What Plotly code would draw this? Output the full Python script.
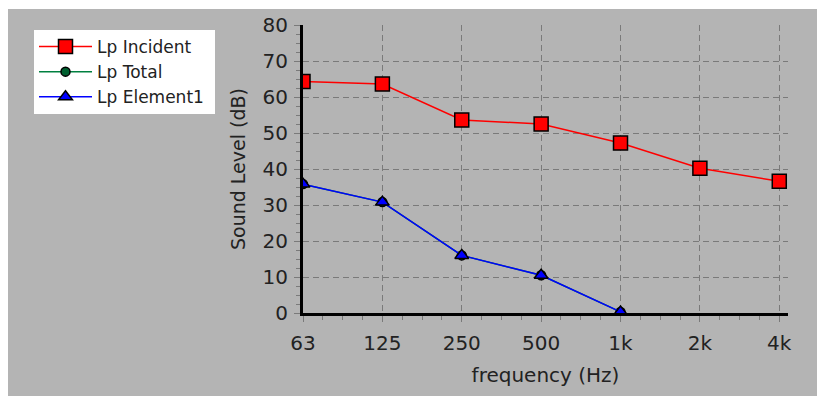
import plotly.graph_objects as go

categories = ["63", "125", "250", "500", "1k", "2k", "4k"]
lp_incident = [64.3, 63.6, 53.6, 52.5, 47.2, 40.2, 36.6]
lp_total = [35.8, 30.8, 16.0, 10.5, 0.3]
lp_element1 = [35.8, 30.8, 16.0, 10.5, 0.3]
y_ticks = [0, 10, 20, 30, 40, 50, 60, 70, 80]

GRAY = "#b4b4b4"
TXT = "#222222"
FONT = "DejaVu Sans, Verdana, sans-serif"

xpos = list(range(len(categories)))

fig = go.Figure()
fig.add_trace(go.Scatter(
    x=xpos, y=lp_incident, name="Lp Incident", mode="lines+markers",
    line=dict(color="#ff0000", width=1.5),
    marker=dict(symbol="square", size=14, color="#ff0000",
                line=dict(color="#000000", width=1.5)),
))
fig.add_trace(go.Scatter(
    x=xpos[:len(lp_total)], y=lp_total, name="Lp Total", mode="lines+markers",
    line=dict(color="#008040", width=1.5),
    marker=dict(symbol="circle", size=9, color="#006030",
                line=dict(color="#000000", width=1.5)),
))
fig.add_trace(go.Scatter(
    x=xpos[:len(lp_element1)], y=lp_element1, name="Lp Element1", mode="lines+markers",
    line=dict(color="#0000ff", width=1.5),
    marker=dict(symbol="triangle-up", size=12, color="#0000ff",
                line=dict(color="#000000", width=1.5)),
))

W, H = 817, 396
L, R, T, B = 303, 29, 25, 83
pw, ph = W - L - R, H - T - B

def px(xp):
    return (xp - L) / pw

def py(yp):
    return (H - B - yp) / ph

# thin white border at top and left of the grey panel
fig.add_shape(type="rect", xref="paper", yref="paper",
              x0=px(-5), x1=px(W + 5), y0=py(9), y1=py(-5),
              fillcolor="#ffffff", line=dict(width=0), layer="below")
fig.add_shape(type="rect", xref="paper", yref="paper",
              x0=px(-5), x1=px(8), y0=py(H + 5), y1=py(-5),
              fillcolor="#ffffff", line=dict(width=0), layer="below")
# white legend box
fig.add_shape(type="rect", xref="paper", yref="paper",
              x0=px(34), x1=px(215), y0=py(114), y1=py(30),
              fillcolor="#ffffff", line=dict(width=0), layer="below")

fig.update_layout(
    width=W, height=H,
    margin=dict(l=L, r=R, t=T, b=B),
    paper_bgcolor=GRAY,
    plot_bgcolor=GRAY,
    font=dict(family=FONT, color=TXT, size=20),
    showlegend=True,
    legend=dict(
        x=px(34), y=py(29), xanchor="left", yanchor="top",
        bgcolor="rgba(0,0,0,0)", borderwidth=0,
        font=dict(family=FONT, size=17, color=TXT),
        itemwidth=53, tracegroupgap=0,
    ),
    xaxis=dict(
        range=[0, 6.11], tickmode="array", tickvals=xpos, ticktext=categories,
        showline=True, linecolor="#000000", linewidth=3,
        showgrid=True, gridcolor="#7a7a7a", griddash="6px,4px", gridwidth=1,
        ticks="outside", ticklen=6, tickcolor="#7a7a7a", tickwidth=1,
        ticklabelstandoff=4,
        zeroline=False,
        tickfont=dict(size=20, color=TXT),
        title=dict(text="frequency (Hz)", font=dict(size=20, color=TXT), standoff=14),
        minor=dict(dtick=0.25, tick0=0, ticks="outside", ticklen=4, tickcolor="#7a7a7a", showgrid=False),
    ),
    yaxis=dict(
        range=[0, 80], tickmode="array", tickvals=y_ticks,
        showline=True, linecolor="#000000", linewidth=3,
        showgrid=True, gridcolor="#7a7a7a", griddash="6px,4px", gridwidth=1,
        ticks="outside", ticklen=6, tickcolor="#7a7a7a", tickwidth=1,
        ticklabelstandoff=2,
        zeroline=False,
        tickfont=dict(size=20, color=TXT),
        title=dict(text="Sound Level (dB)", font=dict(size=19, color=TXT), standoff=12),
        minor=dict(dtick=2.5, tick0=0, ticks="outside", ticklen=4, tickcolor="#7a7a7a", showgrid=False),
    ),
)

fig.write_html(
    "out.html",
    config={"displayModeBar": False},
    post_script="document.documentElement.style.margin='0';document.body.style.margin='0';document.body.style.overflow='hidden';",
)
